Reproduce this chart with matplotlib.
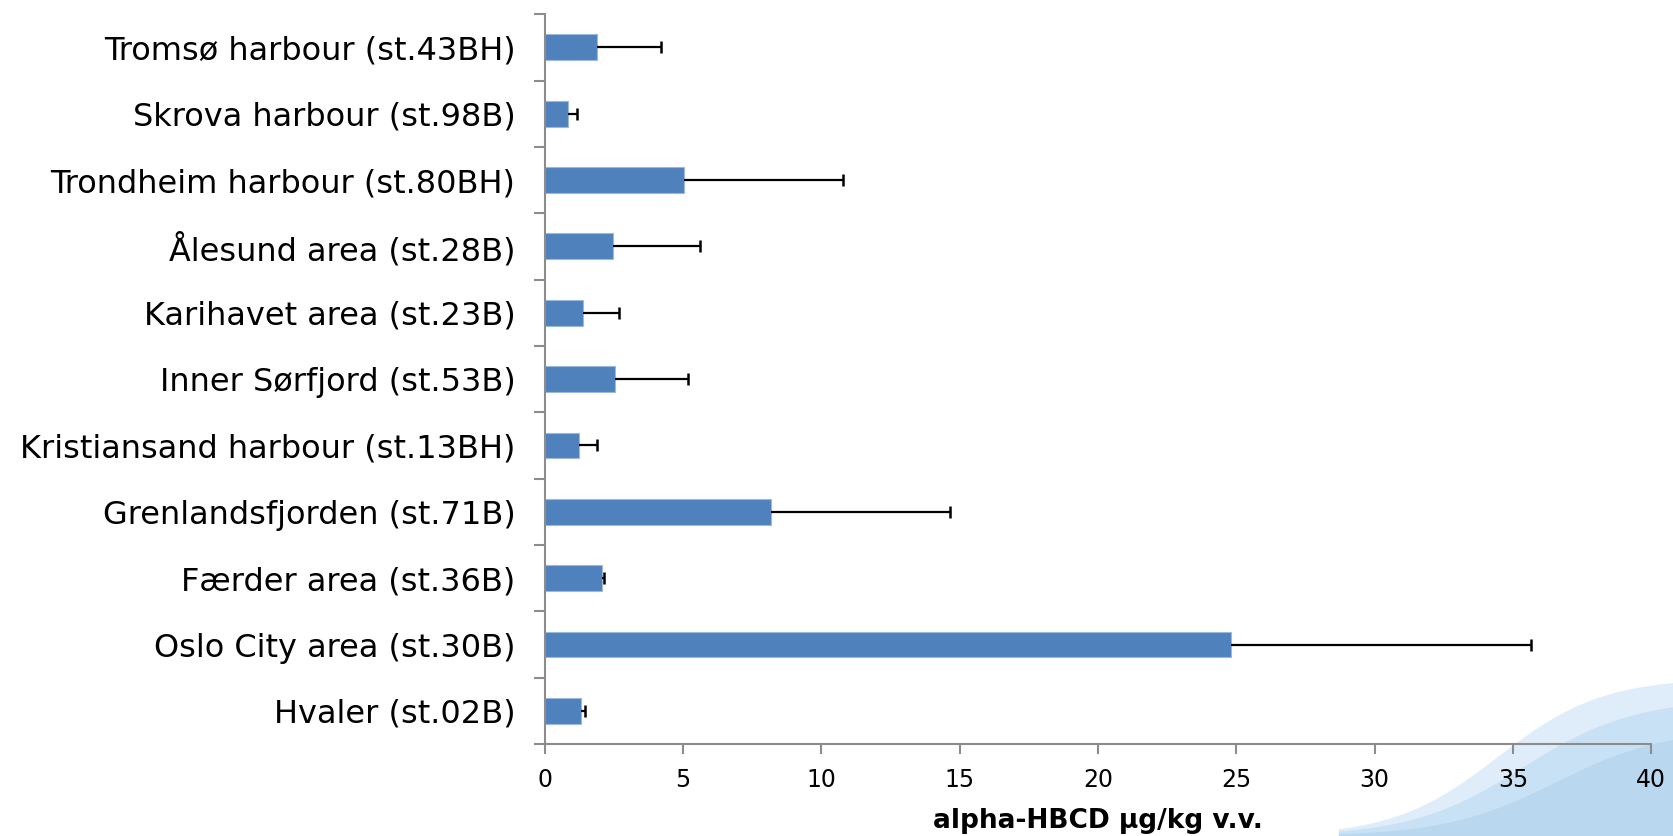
import matplotlib
matplotlib.use('Agg')
import numpy as np
import matplotlib.pyplot as plt

# stations, listed bottom -> top as drawn
stations = ['Hvaler (st.02B)', 'Oslo City area (st.30B)', 'Færder area (st.36B)',
            'Grenlandsfjorden (st.71B)', 'Kristiansand harbour (st.13BH)',
            'Inner Sørfjord (st.53B)', 'Karihavet area (st.23B)',
            'Ålesund area (st.28B)', 'Trondheim harbour (st.80BH)',
            'Skrova harbour (st.98B)', 'Tromsø harbour (st.43BH)']
mean_vals = [1.32, 24.8, 2.09, 8.17, 1.23, 2.55, 1.40, 2.48, 5.03, 0.86, 1.88]
err_vals = [0.13, 10.85, 0.05, 6.49, 0.65, 2.63, 1.29, 3.14, 5.75, 0.30, 2.33]
xticks = [0, 5, 10, 15, 20, 25, 30, 35, 40]

fig = plt.figure(figsize=(16.73, 8.36), dpi=100)

# light blue wave in background, bottom right
bg = fig.add_axes([0, 0, 1, 1], zorder=0)
bg.set_xlim(0, 1)
bg.set_ylim(0, 1)
bg.axis('off')
wx = np.linspace(0.80, 1.0, 200)
wy = 0.19 / (1 + np.exp(-(wx - 0.895) * 32))
bg.fill_between(wx, 0, wy, color='#deedf9', lw=0)
wy2 = 0.165 / (1 + np.exp(-(wx - 0.91) * 30))
bg.fill_between(wx, 0, wy2, color='#c9e1f4', lw=0)
wy3 = 0.13 / (1 + np.exp(-(wx - 0.93) * 30))
bg.fill_between(wx, 0, wy3, color='#b9d8f0', lw=0)

ax = fig.add_axes([0.3255, 0.110, 0.6615, 0.873], zorder=1)
ax.patch.set_alpha(0)
y = np.arange(len(stations))
ax.barh(y, mean_vals, height=0.39, color='#4f81bd', edgecolor='#9bb8dd', linewidth=0.8)

# one-sided error bars (plus side only)
ends = np.array(mean_vals) + np.array(err_vals)
ax.hlines(y, mean_vals, ends, color='black', lw=1.6, zorder=3)
ax.plot(ends, y, ls='none', marker='|', ms=9, mew=1.8, color='black', zorder=3)

ax.set_xlim(0, 40)
ax.set_ylim(-0.5, len(stations) - 0.5)
ax.set_xticks(xticks)
ax.set_xticklabels([str(t) for t in xticks], fontsize=17)
ax.set_yticks(y)
ax.set_yticklabels(stations, fontsize=23)
ax.set_yticks(np.arange(-0.5, len(stations)), minor=True)
ax.tick_params(axis='y', which='major', length=0, pad=21)
ax.tick_params(axis='y', which='minor', length=8, width=1.5, color='#8c8c8c')
ax.tick_params(axis='x', length=7, width=1.5, color='#8c8c8c', pad=10)
for s in ['top', 'right']:
    ax.spines[s].set_visible(False)
for s in ['left', 'bottom']:
    ax.spines[s].set_color('#8c8c8c')
    ax.spines[s].set_linewidth(1.5)
ax.set_xlabel('alpha-HBCD µg/kg v.v.', fontsize=19, fontweight='bold', labelpad=12)

fig.savefig('out.png', dpi=100)
